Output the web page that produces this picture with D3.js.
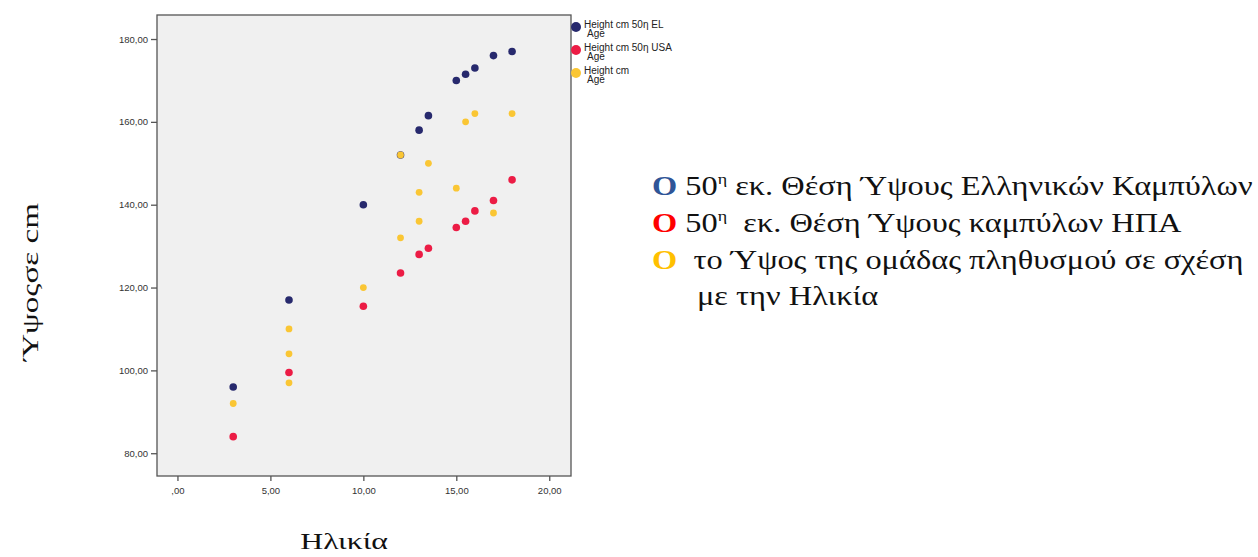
<!DOCTYPE html>
<html>
<head>
<meta charset="utf-8">
<script src="https://cdn.jsdelivr.net/npm/d3@7"></script>
<style>
  html, body { margin: 0; padding: 0; background: #ffffff; }
  svg { display: block; }
</style>
</head>
<body>
<svg id="chart" width="1258" height="557"></svg>
<script>
// ---- data ----
const refAges = [3, 6, 10, 12, 13, 13.5, 15, 15.5, 16, 17, 18];
const heightEL = [96, 117, 140, 152, 158, 161.5, 170, 171.5, 173, 176, 177];
const heightUSA = [84, 99.5, 115.5, 123.5, 128, 129.5, 134.5, 136, 138.5, 141, 146];
const sampleAges = [3, 6, 6, 6, 10, 12, 12, 13, 13, 13.5, 15, 15.5, 16, 17, 18];
const sampleHeights = [92, 110, 104, 97, 120, 132, 152, 143, 136, 150, 144, 160, 162, 138, 162];
const xTicks = [0, 5, 10, 15, 20];
const yTicks = [80, 100, 120, 140, 160, 180];
const legendNames = ["Height cm 50η EL", "Height cm 50η USA", "Height cm"];
const legendSub = "Age";
const colors = ["#27296d", "#ec1c45", "#fac634"];
const xTitle = "Ηλικία";
const yTitle = "Ύψοςσε cm";

// ---- layout ----
const svg = d3.select("#chart");
const L = 157, R = 571, T = 15, B = 476;
const x = d3.scaleLinear().domain([-1.1, 21.17]).range([L, R]);
const y = d3.scaleLinear().domain([74.5, 185.8]).range([B, T]);
const fmt = v => v === 0 ? ",00" : v.toFixed(2).replace(".", ",");

svg.append("rect").attr("x", L).attr("y", T).attr("width", R - L).attr("height", B - T)
  .attr("fill", "#f0f0f0").attr("stroke", "#555").attr("stroke-width", 1.3);

const yAxis = svg.append("g").attr("transform", `translate(${L},0)`)
  .call(d3.axisLeft(y).tickValues(yTicks).tickFormat(fmt).tickSize(6).tickPadding(3));
const xAxis = svg.append("g").attr("transform", `translate(0,${B})`)
  .call(d3.axisBottom(x).tickValues(xTicks).tickFormat(fmt).tickSize(5).tickPadding(6));
[yAxis, xAxis].forEach(g => {
  g.select(".domain").remove();
  g.selectAll(".tick line").attr("stroke", "#555").attr("stroke-width", 1.3);
  g.selectAll(".tick text").attr("fill", "#333").style("font-family", "Arial, 'Liberation Sans', sans-serif").style("font-size", "9.5px");
});

// points
const ptR = 3.8;
const elPts = refAges.map((a, i) => ({ a, h: heightEL[i] }));
const usPts = refAges.map((a, i) => ({ a, h: heightUSA[i] }));
const smPts = sampleAges.map((a, i) => ({ a, h: sampleHeights[i] }));
svg.append("g").selectAll("circle").data(elPts).join("circle")
  .attr("cx", d => x(d.a)).attr("cy", d => y(d.h)).attr("r", ptR).attr("fill", colors[0]);
svg.append("g").selectAll("circle").data(usPts).join("circle")
  .attr("cx", d => x(d.a)).attr("cy", d => y(d.h)).attr("r", ptR).attr("fill", colors[1]);
svg.append("g").selectAll("circle").data(smPts).join("circle")
  .attr("cx", d => x(d.a)).attr("cy", d => y(d.h)).attr("r", 3.4).attr("fill", colors[2]);

// legend
const leg = svg.append("g");
legendNames.forEach((n, i) => {
  const cy = 27 + i * 23;
  leg.append("circle").attr("cx", 576).attr("cy", cy).attr("r", 5).attr("fill", colors[i]);
  leg.append("text").attr("x", 584).attr("y", cy + 0.5).text(n)
    .attr("fill", "#222").style("font-family", "Arial, 'Liberation Sans', sans-serif").style("font-size", "10px");
  leg.append("text").attr("x", 587).attr("y", cy + 9.5).text(legendSub)
    .attr("fill", "#222").style("font-family", "Arial, 'Liberation Sans', sans-serif").style("font-size", "10px");
});

// axis titles
svg.append("text").attr("transform", "translate(344,549) scale(1.38,1)").attr("text-anchor", "middle").text(xTitle)
  .style("font-family", "'Liberation Serif', 'Times New Roman', serif").style("font-size", "23px").attr("fill", "#111");
svg.append("text").attr("transform", "translate(38,282) rotate(-90) scale(1.38,1)").attr("text-anchor", "middle").text(yTitle)
  .style("font-family", "'Liberation Serif', 'Times New Roman', serif").style("font-size", "24px").attr("fill", "#111");

// annotation
const noteColors = ["#2f5597", "#ff0000", "#ffc000"];
const ann = svg.append("g").attr("transform", "translate(652,0) scale(1.2,1) translate(-652,0)")
  .style("font-family", "'Liberation Serif', 'Times New Roman', serif").style("font-size", "27px").attr("fill", "#111");
const lines = [
  { o: noteColors[0], pre: " 50", sup: "η", post: " εκ. Θέση Ύψους Ελληνικών Καμπύλων" },
  { o: noteColors[1], pre: " 50", sup: "η", post: "  εκ. Θέση Ύψους καμπύλων ΗΠΑ" },
  { o: noteColors[2], pre: "  το Ύψος της ομάδας πληθυσμού σε σχέση", sup: null, post: null }
];
const baselines = [195, 232, 269, 305];
lines.forEach((ln, i) => {
  const t = ann.append("text").attr("x", 652).attr("y", baselines[i]).attr("xml:space", "preserve").style("white-space", "pre");
  t.append("tspan").text("O").attr("fill", ln.o).style("font-weight", "bold");
  t.append("tspan").text(ln.pre);
  if (ln.sup) {
    t.append("tspan").text(ln.sup).attr("dy", -11).style("font-size", "15px");
    t.append("tspan").text(ln.post).attr("dy", 11);
  }
});
ann.append("text").attr("x", 689.5).attr("y", baselines[3]).text("με την Ηλικία");
</script>
</body>
</html>
